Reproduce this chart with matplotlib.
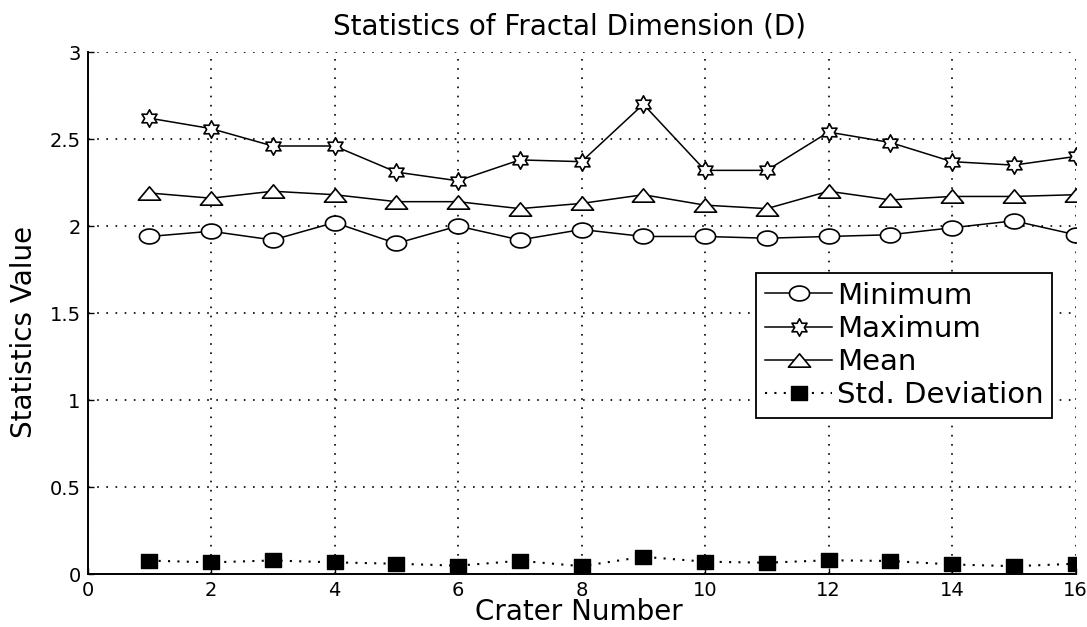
import numpy as np
import matplotlib
matplotlib.use("Agg")
import matplotlib.pyplot as plt
from matplotlib.path import Path
from matplotlib.ticker import FormatStrFormatter

# Fractal dimension statistics for each crater
crater = [1, 2, 3, 4, 5, 6, 7, 8, 9, 10, 11, 12, 13, 14, 15, 16]
minimum = [1.94, 1.97, 1.92, 2.02, 1.90, 2.00, 1.92, 1.98,
           1.94, 1.94, 1.93, 1.94, 1.95, 1.99, 2.03, 1.95]
maximum = [2.62, 2.56, 2.46, 2.46, 2.31, 2.26, 2.38, 2.37,
           2.70, 2.32, 2.32, 2.54, 2.48, 2.37, 2.35, 2.40]
mean = [2.19, 2.16, 2.20, 2.18, 2.14, 2.14, 2.10, 2.13,
        2.18, 2.12, 2.10, 2.20, 2.15, 2.17, 2.17, 2.18]
std_dev = [0.077, 0.067, 0.078, 0.067, 0.059, 0.048, 0.076, 0.045,
           0.099, 0.071, 0.065, 0.079, 0.075, 0.055, 0.045, 0.059]

series_labels = ["Minimum", "Maximum", "Mean", "Std. Deviation"]
x_ticks = [0, 2, 4, 6, 8, 10, 12, 14, 16]
y_ticks = [0, 0.5, 1, 1.5, 2, 2.5, 3]

plt.rcParams["font.family"] = ["DejaVu Sans"]

# Slightly wide marker shapes
t = np.linspace(0, 2 * np.pi, 41)
ellipse = Path(np.column_stack([np.cos(t), 0.74 * np.sin(t)]), closed=True)
flat_tri = Path([(0, 0.6), (-1, -0.6), (1, -0.6), (0, 0.6)], closed=True)
hexagram = Path.unit_regular_star(6, 0.56)
rect = Path([(-1, -0.85), (1, -0.85), (1, 0.85), (-1, 0.85), (-1, -0.85)],
            closed=True)

fig = plt.figure(figsize=(10.87, 6.27), dpi=100)
ax = fig.add_axes([0.0805, 0.0845, 0.909, 0.8325])

lw = 1.1
ax.plot(crater, minimum, color="black", lw=lw, marker=ellipse, ms=14.5,
        mfc="white", mec="black", mew=1.2, label=series_labels[0], zorder=3)
ax.plot(crater, maximum, color="black", lw=lw, marker=hexagram, ms=12.5,
        mfc="white", mec="black", mew=1.2, label=series_labels[1], zorder=3)
ax.plot(crater, mean, color="black", lw=lw, marker=flat_tri, ms=16,
        mfc="white", mec="black", mew=1.2, label=series_labels[2], zorder=3)
ax.plot(crater, std_dev, color="black", lw=1.5, linestyle=(0, (1, 3.5)),
        marker=rect, ms=11.5, mfc="black", mec="black",
        label=series_labels[3], zorder=3)

ax.set_xlim(0, 16)
ax.set_ylim(0, 3)
ax.set_xticks(x_ticks)
ax.set_yticks(y_ticks)
ax.yaxis.set_major_formatter(FormatStrFormatter("%g"))
ax.tick_params(direction="in", length=4, width=1, labelsize=14,
               top=False, right=False, pad=5)

ax.grid(True, color="black", linestyle=(0, (1, 4.5)), linewidth=1.2)
ax.set_axisbelow(True)
for side in ("top", "right"):
    ax.spines[side].set_visible(False)
for side in ("left", "bottom"):
    ax.spines[side].set_linewidth(1.4)

fig.text(0.5235, 1 - 35 / 627, "Statistics of Fractal Dimension (D)",
         ha="center", va="baseline", fontsize=20)
fig.text(579 / 1087, 1 - 620 / 627, "Crater Number",
         ha="center", va="baseline", fontsize=20)
fig.text(24 / 1087, 1 - 332 / 627, "Statistics Value",
         ha="center", va="center", rotation=90, fontsize=20)

leg = ax.legend(loc="upper left", bbox_to_anchor=(0.677, 0.577),
                fontsize=21, frameon=True, fancybox=False, framealpha=1,
                edgecolor="black", borderpad=0.3, labelspacing=0.18,
                handlelength=2.3, handletextpad=0.15, borderaxespad=0)
leg.get_frame().set_linewidth(1.3)
leg.set_zorder(5)

fig.savefig("out.png", dpi=100)
